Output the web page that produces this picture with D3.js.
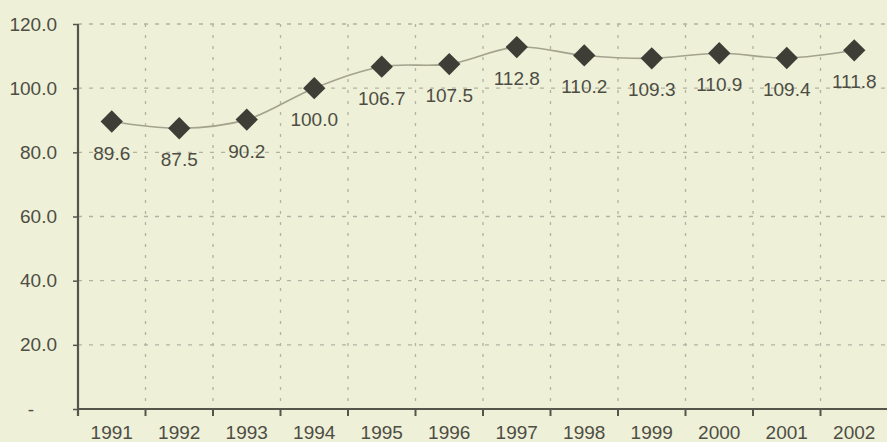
<!DOCTYPE html>
<html>
<head>
<meta charset="utf-8">
<script src="https://cdn.jsdelivr.net/npm/d3@7"></script>
<style>
    body { margin: 0; background: #eef0d8; }
    svg { display: block; }
    text { font-family: "Liberation Sans", Arial, sans-serif; fill: #4d4d44; }
</style>
</head>
<body>
<div id="wrapper"></div>
<script>
const years = ["1991", "1992", "1993", "1994", "1995", "1996", "1997", "1998", "1999", "2000", "2001", "2002"]
const values = [89.6, 87.5, 90.2, 100.0, 106.7, 107.5, 112.8, 110.2, 109.3, 110.9, 109.4, 111.8]
const yTicks = [0, 20, 40, 60, 80, 100, 120]

function drawChart() {
    let dimensions = {
        width: 887,
        height: 442,
        margin: {
            top: 24,
            right: -1,
            bottom: 33,
            left: 78
        },
    }

    dimensions.boundedWidth = dimensions.width
        - dimensions.margin.left
        - dimensions.margin.right

    dimensions.boundedHeight = dimensions.height
        - dimensions.margin.top
        - dimensions.margin.bottom

    const wrapper = d3.select("#wrapper")
        .append("svg")
        .attr("width", dimensions.width)
        .attr("height", dimensions.height)

    const bounds = wrapper.append("g")
        .attr("transform", `translate(${dimensions.margin.left},${dimensions.margin.top})`)

    const xScale = d3.scaleBand()
        .domain(years)
        .range([0, dimensions.boundedWidth])

    const yScale = d3.scaleLinear()
        .domain([0, 120])
        .range([dimensions.boundedHeight, 0])

    // grid
    bounds.append("g")
        .selectAll("line")
        .data(yTicks.filter(d => d > 0))
        .join("line")
        .attr("x1", 0)
        .attr("x2", dimensions.boundedWidth)
        .attr("y1", d => yScale(d))
        .attr("y2", d => yScale(d))
        .attr("stroke", "#b2b3a2")
        .attr("stroke-width", 1.3)
        .attr("stroke-dasharray", "4 7")

    bounds.append("g")
        .selectAll("line")
        .data(years.slice(1))
        .join("line")
        .attr("x1", d => xScale(d))
        .attr("x2", d => xScale(d))
        .attr("y1", 0)
        .attr("y2", dimensions.boundedHeight)
        .attr("stroke", "#b2b3a2")
        .attr("stroke-width", 1.3)
        .attr("stroke-dasharray", "3 8")

    // axes
    const xAxisGenerator = d3.axisBottom()
        .scale(xScale)
        .tickSize(0)
        .tickPadding(17)

    const xAxis = bounds.append("g")
        .call(xAxisGenerator)
        .attr("transform", `translate(0,${dimensions.boundedHeight})`)
    xAxis.select(".domain").remove()
    xAxis.selectAll("text").style("font-size", "19px")

    bounds.append("g")
        .attr("transform", `translate(0,${dimensions.boundedHeight})`)
        .selectAll("line")
        .data(years)
        .join("line")
        .attr("x1", d => xScale(d))
        .attr("x2", d => xScale(d))
        .attr("y1", 0)
        .attr("y2", 7)
        .attr("stroke", "#55554c")
        .attr("stroke-width", 2)

    bounds.append("line")
        .attr("x1", 0)
        .attr("x2", dimensions.boundedWidth)
        .attr("y1", dimensions.boundedHeight)
        .attr("y2", dimensions.boundedHeight)
        .attr("stroke", "#55554c")
        .attr("stroke-width", 2.2)

    const yAxisGenerator = d3.axisLeft()
        .scale(yScale)
        .tickValues(yTicks)
        .tickSize(5)
        .tickPadding(16)
        .tickFormat(d => d === 0 ? "-" : d3.format(".1f")(d))

    const yAxis = bounds.append("g")
        .call(yAxisGenerator)
    yAxis.select(".domain")
        .attr("stroke", "#55554c")
        .attr("stroke-width", 2.2)
        .attr("d", `M0,0V${dimensions.boundedHeight + 7}`)
    yAxis.selectAll(".tick line").attr("stroke", "#55554c").attr("stroke-width", 1.5)
    yAxis.selectAll("text").style("font-size", "19px")
    yAxis.selectAll(".tick text")
        .filter(d => d === 0)
        .attr("x", -47)
        .attr("text-anchor", "middle")

    // line
    const lineGenerator = d3.line()
        .x((d, i) => xScale(years[i]) + xScale.bandwidth() / 2)
        .y(d => yScale(d))
        .curve(d3.curveCatmullRom.alpha(0.5))

    bounds.append("path")
        .datum(values)
        .attr("d", lineGenerator)
        .attr("fill", "none")
        .attr("stroke", "#a3a38e")
        .attr("stroke-width", 1.6)

    // markers
    const symbol = d3.symbol().type(d3.symbolSquare).size(250)
    bounds.append("g")
        .selectAll("path")
        .data(values)
        .join("path")
        .attr("d", symbol)
        .attr("transform", (d, i) => `translate(${xScale(years[i]) + xScale.bandwidth() / 2},${yScale(d)}) rotate(45)`)
        .attr("fill", "#3e3e37")

    // labels
    bounds.append("g")
        .selectAll("text")
        .data(values)
        .join("text")
        .attr("x", (d, i) => xScale(years[i]) + xScale.bandwidth() / 2)
        .attr("y", d => yScale(d) + 38)
        .attr("text-anchor", "middle")
        .style("font-size", "19px")
        .text(d => d3.format(".1f")(d))
}

drawChart()
</script>
</body>
</html>
